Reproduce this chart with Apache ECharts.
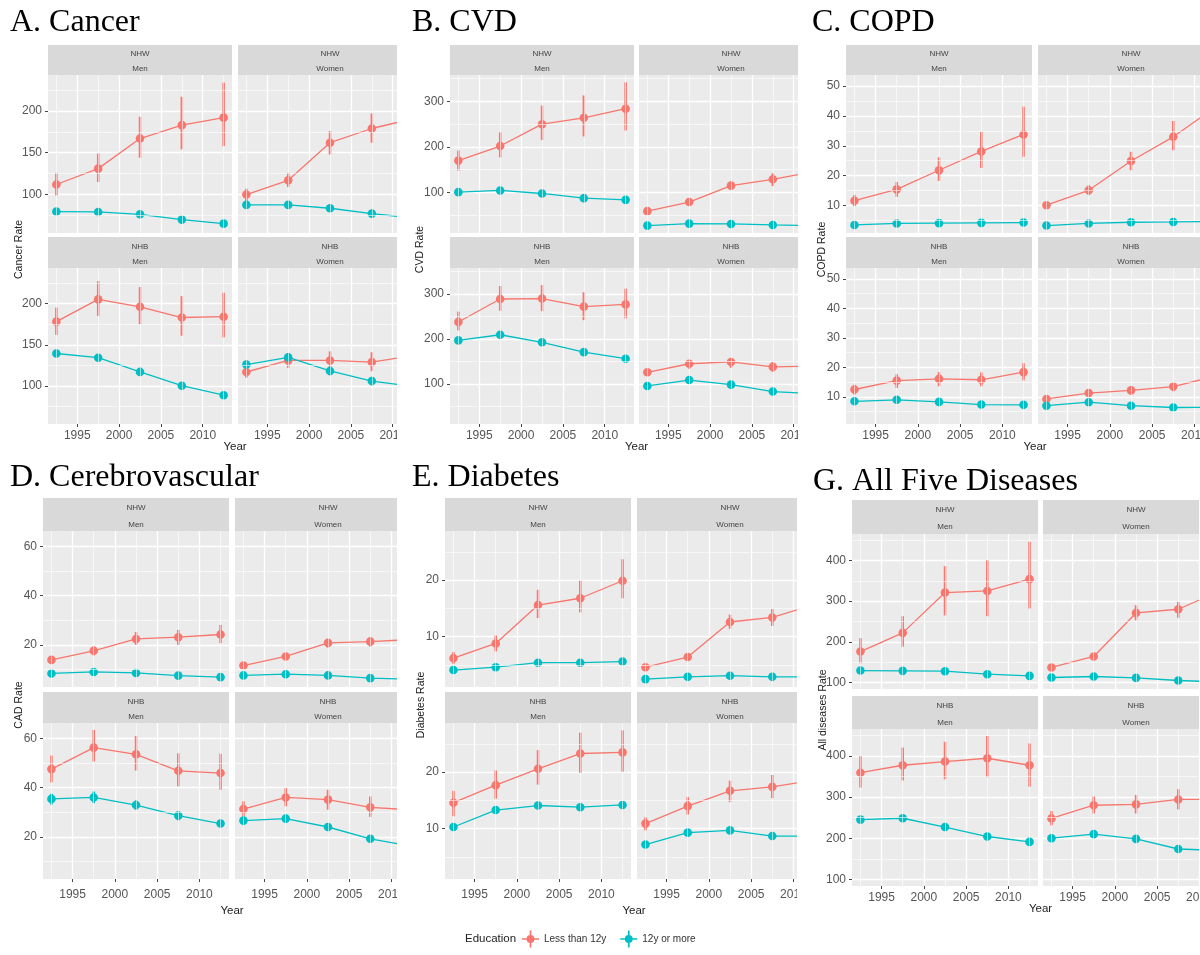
<!DOCTYPE html>
<html><head><meta charset="utf-8">
<script src="https://cdn.jsdelivr.net/npm/echarts@6/dist/echarts.min.js"></script>
<style>
html,body{margin:0;padding:0;background:#fff;width:1200px;height:955px;overflow:hidden;}
.p{position:absolute;}
</style></head><body>
<div id="pA" class="p" style="left:0;top:0;width:397px;height:460px"></div>
<div id="pB" class="p" style="left:400px;top:0;width:398px;height:460px"></div>
<div id="pC" class="p" style="left:800px;top:0;width:400px;height:460px"></div>
<div id="pD" class="p" style="left:0;top:455px;width:397px;height:470px"></div>
<div id="pE" class="p" style="left:400px;top:455px;width:397px;height:470px"></div>
<div id="pG" class="p" style="left:800px;top:455px;width:399px;height:470px"></div>
<div id="leg" class="p" style="left:440px;top:922px;width:330px;height:34px"></div>
<script>
// ---------- shared categories ----------
const years = [1992.5, 1997.5, 2002.5, 2007.5, 2012.5];
const yearTicks = [1995, 2000, 2005, 2010];
const yearMinor = [1992.5, 1997.5, 2002.5, 2007.5, 2012.5];
const facetRace = ['NHW', 'NHW', 'NHB', 'NHB'];
const facetSex = ['Men', 'Women', 'Men', 'Women'];
const eduLevels = ['Less than 12y', '12y or more'];
// facet order in every nested array: NHW Men, NHW Women, NHB Men, NHB Women

// ---------- A. Cancer ----------
const cancerTicks = [100, 150, 200];
const cancerMinor = [75, 125, 175, 225];
const cancerLess   = [[112,131,167,183,192],[100,117,162,179,191],[178,205,196,183,184],[117,131,131,129,137]];
const cancerLessLo = [[99,115,144,154,158],[92,109,148,162,172],[162,185,175,161,159],[110,122,120,118,124]];
const cancerLessHi = [[126,149,193,217,234],[107,126,176,197,210],[195,227,220,209,213],[124,138,142,141,150]];
const cancerMore   = [[79.6,79.2,76.4,70,65.2],[87.6,87.6,83.6,77.2,72],[139.4,134.3,117.1,100.4,88.9],[126,134.7,118.3,106,99.5]];
const cancerMoreLo = [[77,77,74,68,63],[85,85.5,81.5,75,70],[135,130.5,113,97,86],[120,129.5,113,101,95]];
const cancerMoreHi = [[82,81.5,79,72,67.5],[90,90,86,79.5,74],[144,138.5,121,104,92],[131,140,123.5,111,104]];

// ---------- B. CVD ----------
const cvdTicks = [100, 200, 300];
const cvdMinor = [50, 150, 250, 350];
const cvdLess   = [[170,202,250,264,284],[59,79,115,129,146],[238,289,290,272,277],[126,145,149,138,140]];
const cvdLessLo = [[148,177,215,223,236],[54,73,107,114,130],[219,263,262,242,246],[118,134,136,127,127]];
const cvdLessHi = [[192,232,291,313,342],[64,85,124,142,162],[261,318,320,304,312],[133,153,158,149,153]];
const cvdMore   = [[100.7,104.4,97.8,87.5,83.8],[27.2,31.6,30.9,28.7,27],[197,209.5,192.7,170.8,156.2],[95.6,108.8,98.5,83.2,78]];
const cvdMoreLo = [[97,101,94.5,84.5,80.5],[25,29.5,29,26.5,25],[192,204.5,188,166.5,152],[91,104,94.5,79.5,74]];
const cvdMoreHi = [[104.5,108,101,90.5,87],[29.5,33.5,33,31,29],[202,214.5,197.5,175,160.5],[100,113.5,102.5,87,82]];

// ---------- C. COPD ----------
const copdTicks = [10, 20, 30, 40, 50];
const copdMinor = [5, 15, 25, 35, 45];
const copdLess   = [[11.6,15.4,21.8,28.1,33.8],[10.1,15.1,24.9,33.0,43],[12.5,15.5,16.1,15.8,18.4],[9.3,11.3,12.2,13.5,17]];
const copdLessLo = [[9.8,12.9,18.2,22.6,26.3],[9.2,13.5,21.8,28.5,36],[10.8,13.0,13.6,13.6,15.6],[8.3,10.1,10.8,11.9,14.8]];
const copdLessHi = [[13.5,17.9,26.1,34.7,43.1],[11.1,16.8,28.0,38.3,51],[14.1,17.7,18.4,18.3,21.4],[10.3,12.6,13.7,14.9,19.3]];
const copdMore   = [[3.5,4.0,4.1,4.2,4.3],[3.3,4.0,4.4,4.5,4.7],[8.5,9.0,8.3,7.4,7.3],[7.0,8.2,7.0,6.4,6.5]];
const copdMoreLo = [[3.1,3.6,3.7,3.8,3.9],[2.9,3.6,4.0,4.1,4.3],[7.7,8.2,7.6,6.8,6.7],[6.3,7.4,6.3,5.8,5.9]];
const copdMoreHi = [[3.9,4.4,4.5,4.6,4.7],[3.7,4.4,4.8,4.9,5.1],[9.3,9.8,9.0,8.0,7.9],[7.7,9.0,7.7,7.0,7.1]];

// ---------- D. Cerebrovascular ----------
const cadTicks = [20, 40, 60];
const cadMinor = [10, 30, 50];
const cadLess   = [[13.9,17.6,22.4,23.1,24.2],[11.6,15.3,20.8,21.3,22.2],[47.5,56.2,53.5,46.8,45.9],[31.3,36.0,35.1,32.0,30.9]];
const cadLessLo = [[12.8,15.7,20.0,20.0,20.7],[10.6,14.2,18.9,19.3,19.5],[42.1,50.6,46.9,40.5,39.1],[27.7,32.4,31.0,28.1,27]];
const cadLessHi = [[15.0,19.3,25.2,26.1,28.1],[12.6,16.4,22.2,23.2,25],[53.0,63.4,60.9,53.9,53.7],[34.4,39.8,39.1,36.4,35]];
const cadMore   = [[8.4,9.0,8.6,7.5,6.9],[7.6,8.1,7.6,6.5,6.0],[35.4,36.0,32.9,28.6,25.4],[26.6,27.4,24.0,19.2,16.1]];
const cadMoreLo = [[7.8,8.4,8.0,6.9,6.3],[7.0,7.5,7.0,5.9,5.4],[33.1,33.7,31.0,26.7,23.9],[25.0,25.8,22.6,18.0,15.0]];
const cadMoreHi = [[9.0,9.6,9.2,8.1,7.5],[8.2,8.7,8.2,7.1,6.6],[37.5,38.4,34.8,30.4,26.9],[28.2,29.0,25.4,20.4,17.2]];

// ---------- E. Diabetes ----------
const diabTicks = [10, 20];
const diabMinor = [5, 15, 25];
const diabLess   = [[6.2,8.8,15.6,16.8,19.9],[4.6,6.4,12.6,13.4,15.7],[14.6,17.7,20.6,23.3,23.5],[10.9,14.0,16.7,17.4,18.6]];
const diabLessLo = [[5.2,7.4,13.3,14.3,16.8],[4.2,5.9,11.4,11.9,13.9],[12.2,15.3,17.8,19.9,20.1],[9.7,12.5,14.7,15.4,16.1]];
const diabLessHi = [[7.3,10.2,18.3,19.9,23.7],[5.0,6.9,13.9,14.9,17.5],[16.7,20.3,23.9,27.0,27.4],[12.0,15.6,18.5,19.5,21.1]];
const diabMore   = [[4.1,4.6,5.4,5.4,5.6],[2.5,2.9,3.1,2.9,2.9],[10.3,13.3,14.1,13.8,14.2],[7.2,9.3,9.7,8.7,8.7]];
const diabMoreLo = [[3.9,4.4,5.2,5.2,5.4],[2.3,2.7,2.9,2.7,2.7],[9.9,12.8,13.6,13.3,13.7],[6.8,8.8,9.2,8.2,8.2]];
const diabMoreHi = [[4.3,4.8,5.6,5.6,5.8],[2.7,3.1,3.3,3.1,3.1],[10.7,13.8,14.6,14.3,14.7],[7.6,9.8,10.2,9.2,9.2]];

// ---------- G. All Five Diseases ----------
const allTicks = [100, 200, 300, 400];
const allMinor = [150, 250, 350, 450];
const allLess   = [[176,222,321,325,354],[137,164,271,280,326],[359,377,386,394,377],[248,280,282,294,294]];
const allLessLo = [[147,188,265,263,282],[130,157,253,259,300],[323,340,343,348,325],[231,260,260,270,268]];
const allLessHi = [[209,263,386,400,446],[144,171,290,298,352],[399,420,434,448,430],[266,301,305,319,320]];
const allMore   = [[129.4,128.6,127.8,120.4,116.3],[112.3,114.7,111.4,104.9,101],[245,248.4,227,204.1,191],[200,209.8,198.4,173.8,170]];
const allMoreLo = [[125,124.5,123.5,116.5,112],[108.5,111,107.5,101,97],[238,241.5,220.5,198,185],[193.5,203,192,168,164]];
const allMoreHi = [[133.5,133,132,124.5,120.5],[116,118.5,115.5,109,105],[252,255.5,233.5,210,197],[206.5,216.5,205,179.5,176]];

// ---------- styling ----------
const RED = '#F8766D', TEAL = '#00BFC4';
const SANS = '"Liberation Sans", Arial, Helvetica, sans-serif';
const SERIF = '"Liberation Serif", "Times New Roman", serif';

function pointRange(color) {
  return function (params, api) {
    const x = api.value(0);
    const pm = api.coord([x, api.value(1)]);
    const plo = api.coord([x, api.value(2)]);
    const phi = api.coord([x, api.value(3)]);
    return {type: 'group', children: [
      {type: 'line', shape: {x1: plo[0], y1: plo[1], x2: phi[0], y2: phi[1]}, style: {stroke: color, lineWidth: 2.5}},
      {type: 'circle', shape: {cx: pm[0], cy: pm[1], r: 4.3}, style: {fill: color}}
    ]};
  };
}

function panel(domId, o) {
  const chart = echarts.init(document.getElementById(domId), null, {renderer: 'canvas'});
  const L = o.layout;
  const grid = [], xAxis = [], yAxis = [], series = [], graphic = [];
  for (let i = 0; i < 4; i++) {
    const col = i % 2, row = i >> 1;
    const left = col ? L.xR : L.x0;
    const top = row ? L.p2 : L.p1;
    const h = row ? L.h2 : L.h1;
    const st = row ? L.s2 : L.s1;
    const sh = row ? L.sh2 : L.sh1;
    grid.push({left: left, top: top, width: L.w, height: h, show: true, backgroundColor: '#EBEBEB',
      borderWidth: 0, containLabel: false, outerBoundsMode: 'none'});
    xAxis.push({type: 'value', gridIndex: i, min: 1991.5, max: 2013.5,
      axisLine: {show: false},
      axisTick: {show: row === 1, customValues: yearTicks, length: 3, lineStyle: {color: '#444', width: 1}},
      axisLabel: {show: row === 1, customValues: yearTicks, fontSize: 12, color: '#555', margin: L.xm, fontFamily: SANS,
        formatter: v => String(v)},
      splitLine: {show: true, lineStyle: {color: '#FFFFFF', width: 1.3}}
    });
    yAxis.push({type: 'value', gridIndex: i, min: o.yMin, max: o.yMax,
      axisLine: {show: false},
      axisTick: {show: col === 0, customValues: o.ticks, length: 3, lineStyle: {color: '#444', width: 1}},
      axisLabel: {show: col === 0, customValues: o.ticks, fontSize: 12, color: '#555', margin: 6, fontFamily: SANS,
        formatter: v => String(v)},
      splitLine: {show: true, lineStyle: {color: '#FFFFFF', width: 1.3}}
    });
    const minorData = yearMinor.map(v => ({xAxis: v}))
      .concat(o.minor.filter(v => v > o.yMin && v < o.yMax).map(v => ({yAxis: v})));
    series.push({type: 'line', xAxisIndex: i, yAxisIndex: i, data: [], z: 1, silent: true,
      markLine: {silent: true, symbol: ['none', 'none'], animation: false, label: {show: false},
        lineStyle: {color: '#FFFFFF', width: 0.6, type: 'solid'}, emphasis: {disabled: true}, data: minorData}});
    const groups = [
      {name: eduLevels[0], color: RED, mid: o.less[i], lo: o.lessLo[i], hi: o.lessHi[i]},
      {name: eduLevels[1], color: TEAL, mid: o.more[i], lo: o.moreLo[i], hi: o.moreHi[i]}
    ];
    groups.forEach(g => {
      series.push({type: 'line', name: g.name, xAxisIndex: i, yAxisIndex: i, z: 2, silent: true,
        symbol: 'none', lineStyle: {color: g.color, width: 1.3}, itemStyle: {color: g.color},
        data: years.map((y, k) => [y, g.mid[k]])});
    });
    groups.forEach(g => {
      series.push({type: 'custom', name: g.name, xAxisIndex: i, yAxisIndex: i, z: 3, silent: true,
        renderItem: pointRange(g.color), encode: {x: 0, y: [1, 2, 3]},
        data: years.map((y, k) => [y, g.mid[k], g.lo[k], g.hi[k]])});
    });
    graphic.push({type: 'rect', silent: true, z: 5, shape: {x: left, y: st, width: L.w, height: sh}, style: {fill: '#D9D9D9'}});
    graphic.push({type: 'text', silent: true, z: 6, x: left + L.w / 2, y: st + sh * 0.3,
      style: {text: facetRace[i], fontSize: 8, fontFamily: SANS, fill: '#444', align: 'center', verticalAlign: 'middle'}});
    graphic.push({type: 'text', silent: true, z: 6, x: left + L.w / 2, y: st + sh * 0.8,
      style: {text: facetSex[i], fontSize: 8, fontFamily: SANS, fill: '#444', align: 'center', verticalAlign: 'middle'}});
  }
  graphic.push({type: 'text', silent: true, x: L.tx, y: L.ty,
    style: {text: o.title, fontSize: 32, fontFamily: SERIF, fill: '#000', align: 'left', verticalAlign: 'middle'}});
  graphic.push({type: 'text', silent: true, x: L.yTitleX, y: (L.p1 + L.p2 + L.h2) / 2, rotation: Math.PI / 2,
    style: {text: o.yName, fontSize: 10.5, fontFamily: SANS, fill: '#222', align: 'center', verticalAlign: 'middle'}});
  graphic.push({type: 'text', silent: true, x: (L.x0 + L.xR + L.w) / 2, y: L.yearY,
    style: {text: 'Year', fontSize: 11.5, fontFamily: SANS, fill: '#222', align: 'center', verticalAlign: 'middle'}});
  chart.setOption({animation: false, backgroundColor: 'transparent', grid, xAxis, yAxis, series, graphic});
}

const topRow = {s1: 45, sh1: 30, p1: 75, h1: 158, s2: 237, sh2: 31, p2: 268, h2: 156, xm: 6, yearY: 447, ty: 23};
const botRow = {s1: 43, sh1: 33, p1: 76, h1: 156, s2: 237, sh2: 31, p2: 268, h2: 156, xm: 10, yearY: 456, ty: 23};

panel('pA', {title: 'A. Cancer', yName: 'Cancer Rate', yMin: 54, yMax: 243, ticks: cancerTicks, minor: cancerMinor,
  less: cancerLess, lessLo: cancerLessLo, lessHi: cancerLessHi, more: cancerMore, moreLo: cancerMoreLo, moreHi: cancerMoreHi,
  layout: Object.assign({}, topRow, {x0: 48, xR: 238, w: 184, tx: 10, yTitleX: 19})});
panel('pB', {title: 'B. CVD', yName: 'CVD Rate', yMin: 11, yMax: 358, ticks: cvdTicks, minor: cvdMinor,
  less: cvdLess, lessLo: cvdLessLo, lessHi: cvdLessHi, more: cvdMore, moreLo: cvdMoreLo, moreHi: cvdMoreHi,
  layout: Object.assign({}, topRow, {x0: 50, xR: 239, w: 184, tx: 12, yTitleX: 20})});
panel('pC', {title: 'C. COPD', yName: 'COPD Rate', yMin: 0.8, yMax: 53.7, ticks: copdTicks, minor: copdMinor,
  less: copdLess, lessLo: copdLessLo, lessHi: copdLessHi, more: copdMore, moreLo: copdMoreLo, moreHi: copdMoreHi,
  layout: Object.assign({}, topRow, {x0: 46, xR: 238, w: 186, tx: 12, yTitleX: 22})});
panel('pD', {title: 'D. Cerebrovascular', yName: 'CAD Rate', yMin: 2.9, yMax: 66.2, ticks: cadTicks, minor: cadMinor,
  less: cadLess, lessLo: cadLessLo, lessHi: cadLessHi, more: cadMore, moreLo: cadMoreLo, moreHi: cadMoreHi,
  layout: Object.assign({}, botRow, {x0: 43, xR: 235, w: 186, tx: 10, yTitleX: 19})});
panel('pE', {title: 'E. Diabetes', yName: 'Diabetes Rate', yMin: 1.1, yMax: 28.7, ticks: diabTicks, minor: diabMinor,
  less: diabLess, lessLo: diabLessLo, lessHi: diabLessHi, more: diabMore, moreLo: diabMoreLo, moreHi: diabMoreHi,
  layout: Object.assign({}, botRow, {x0: 45, xR: 237, w: 186, tx: 12, yTitleX: 21})});
panel('pG', {title: 'G. All Five Diseases', yName: 'All diseases Rate', yMin: 84, yMax: 465, ticks: allTicks, minor: allMinor,
  less: allLess, lessLo: allLessLo, lessHi: allLessHi, more: allMore, moreLo: allMoreLo, moreHi: allMoreHi,
  layout: Object.assign({}, botRow, {x0: 52, xR: 243, w: 186, tx: 13, yTitleX: 23,
    s1: 45, sh1: 34, p1: 79, h1: 155, s2: 241, sh2: 33, p2: 274, h2: 157, xm: 6, yearY: 454, ty: 27})});

// ---------- legend ----------
const ICON = 'path://M7.2,0 H8.8 V16 H7.2 Z M0,7.2 H16 V8.8 H0 Z M4.3,8 A3.7,3.7 0 1,1 11.7,8 A3.7,3.7 0 1,1 4.3,8 Z';
const leg = echarts.init(document.getElementById('leg'));
leg.setOption({
  animation: false,
  grid: {show: false, left: 0, top: 0, width: 1, height: 1},
  xAxis: {show: false, type: 'value'}, yAxis: {show: false, type: 'value'},
  legend: {left: 77, top: 'middle', itemWidth: 17, itemHeight: 17, itemGap: 14, selectedMode: false,
    textStyle: {fontSize: 10, color: '#333', fontFamily: SANS},
    data: eduLevels.map(n => ({name: n, icon: ICON}))},
  graphic: [{type: 'text', x: 25, y: 17, style: {text: 'Education', fontSize: 11.5, fontFamily: SANS, fill: '#222', align: 'left', verticalAlign: 'middle'}}],
  series: eduLevels.map((n, i) => ({type: 'line', name: n, data: [], color: [RED, TEAL][i], itemStyle: {color: [RED, TEAL][i]}}))
});
</script>
</body></html>
